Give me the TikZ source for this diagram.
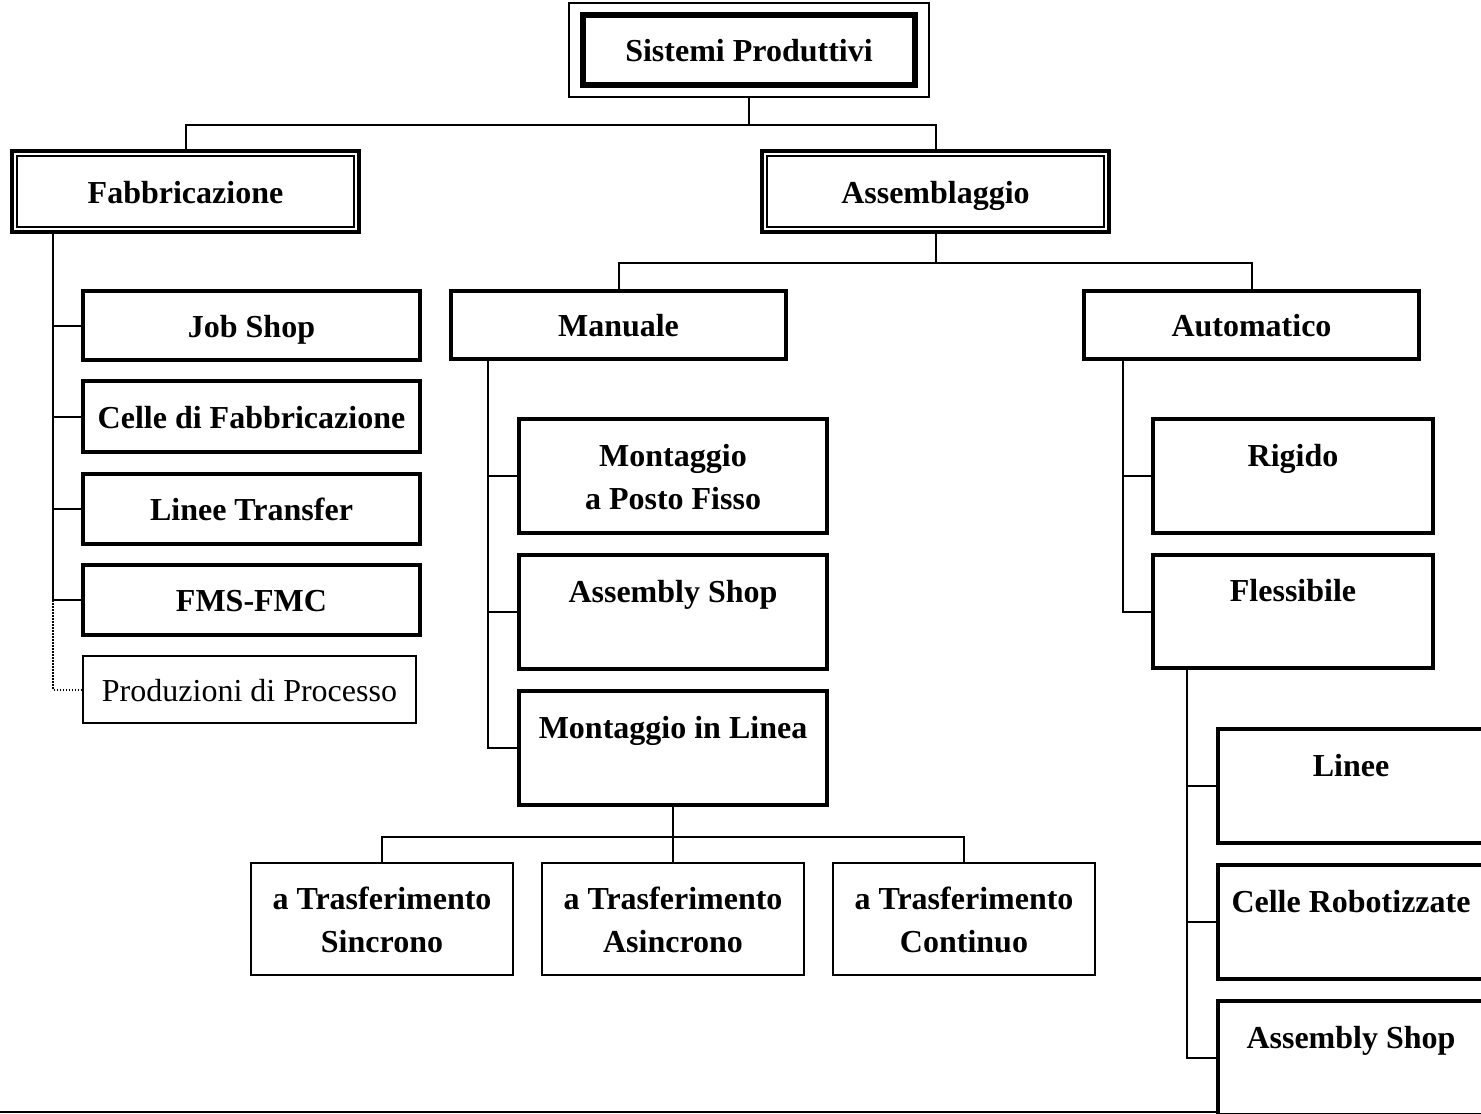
\documentclass[tikz,border=0pt]{standalone}
\usepackage{fontspec}
\setmainfont{Liberation Serif}
\usetikzlibrary{fit,calc}

% every line of box text carries the same strut, so all boxes share one baseline grid
\newcommand{\bxline}[1]{#1\rule[-10pt]{0pt}{43pt}}

\tikzset{
  thinline/.style={line width=2pt},
  boxbase/.style={draw, rectangle, inner sep=0pt, align=center,
    font=\fontsize{32}{43}\selectfont\bfseries},
  thickbox/.style={boxbase, line width=4pt},
  thinbox/.style={boxbase, thinline},
  conn/.style={thinline},
}

\begin{document}
\begin{tikzpicture}[x=1pt, y=1pt]
\useasboundingbox (0,0) rectangle (1481,-1114);
\clip (0,0) rectangle (1481,-1114);

% root with its outer frame
\node[thickbox, line width=5.5pt, minimum width=332, minimum height=70] (root) at (749,-50) {\bxline{Sistemi Produttivi}};
\node[draw, thinline, fit=(root), inner xsep=11, inner ysep=9] (rootframe) {};

% first level, double framed
\node[thickbox, minimum width=347, minimum height=81] (fab) at (185.5,-191.5) {\bxline{Fabbricazione}};
\node[thickbox, minimum width=347, minimum height=81] (ass) at (935.5,-191.5) {\bxline{Assemblaggio}};
\draw[thinline] ($(fab.south west)+(7,7)$) rectangle ($(fab.north east)+(-7,-7)$);
\draw[thinline] ($(ass.south west)+(7,7)$) rectangle ($(ass.north east)+(-7,-7)$);

% fabbricazione
\node[thickbox, minimum width=337, minimum height=69] (job) at (251.5,-325.5) {\bxline{Job Shop}};
\node[thickbox, minimum width=337, minimum height=71] (celle) at (251.5,-416.5) {\bxline{Celle di Fabbricazione}};
\node[thickbox, minimum width=337, minimum height=70] (transfer) at (251.5,-509) {\bxline{Linee Transfer}};
\node[thickbox, minimum width=337, minimum height=70] (fms) at (251.5,-600) {\bxline{FMS-FMC}};
\node[thinbox, font=\fontsize{32}{43}\selectfont, minimum width=333, minimum height=67] (proc) at (249.5,-689.5) {\bxline{Produzioni di Processo}};

% assemblaggio
\node[thickbox, minimum width=335, minimum height=68] (man) at (618.5,-325) {\bxline{Manuale}};
\node[thickbox, minimum width=335, minimum height=68] (auto) at (1251.5,-325) {\bxline{Automatico}};

\node[thickbox, minimum width=308, minimum height=114] (fisso) at (673,-476) {\bxline{Montaggio}\\\bxline{a Posto Fisso}};
\node[thickbox, minimum width=308, minimum height=114] (shop) at (673,-612) {\bxline{Assembly Shop}\\\bxline{}};
\node[thickbox, minimum width=308, minimum height=114] (linea) at (673,-748) {\bxline{Montaggio in Linea}\\\bxline{}};

\node[thinbox, minimum width=262, minimum height=112] (sinc) at (382,-919) {\bxline{a Trasferimento}\\\bxline{Sincrono}};
\node[thinbox, minimum width=262, minimum height=112] (asinc) at (673,-919) {\bxline{a Trasferimento}\\\bxline{Asincrono}};
\node[thinbox, minimum width=262, minimum height=112] (cont) at (964,-919) {\bxline{a Trasferimento}\\\bxline{Continuo}};

\node[thickbox, minimum width=280, minimum height=114] (rigido) at (1293,-476) {\bxline{Rigido}\\\bxline{}};
\node[thickbox, minimum width=280, minimum height=113] (fless) at (1293,-611.5) {\bxline{Flessibile}\\\bxline{}};

\node[thickbox, minimum width=266, minimum height=114] (linee) at (1351,-786) {\bxline{Linee}\\\bxline{}};
\node[thickbox, minimum width=266, minimum height=114] (robot) at (1351,-922) {\bxline{Celle Robotizzate}\\\bxline{}};
\node[thickbox, minimum width=266, minimum height=114] (shop2) at (1351,-1058) {\bxline{Assembly Shop}\\\bxline{}};

% connectors: root
\draw[conn] (rootframe.south) -- ++(0,-27) coordinate (j0);
\draw[conn] (fab.north) |- (j0) -| (ass.north);

% connectors: fabbricazione
\coordinate (fx) at ($(fab.south west)+(43,0)$);
\draw[conn] (fx) |- (job.west);
\draw[conn] (fx) |- (celle.west);
\draw[conn] (fx) |- (transfer.west);
\draw[conn] (fx) |- (fms.west);
\draw[line width=2pt, dash pattern=on 1.6pt off 1.4pt] (fms.west -| fx) |- (proc.west);

% connectors: assemblaggio
\draw[conn] (ass.south) -- ++(0,-29) coordinate (j1);
\draw[conn] (man.north) |- (j1) -| (auto.north);

\coordinate (mx) at ($(man.south west)+(39,0)$);
\draw[conn] (mx) |- (fisso.west);
\draw[conn] (mx) |- (shop.west);
\draw[conn] (mx) |- (linea.west);

\draw[conn] (linea.south) -- ++(0,-30) coordinate (j2);
\draw[conn] (sinc.north) |- (j2) -| (cont.north);
\draw[conn] (j2) -- (asinc.north);

\coordinate (ax) at ($(auto.south west)+(41,0)$);
\draw[conn] (ax) |- (rigido.west);
\draw[conn] (ax) |- (fless.west);

\coordinate (flx) at ($(fless.south west)+(36,0)$);
\draw[conn] (flx) |- (linee.west);
\draw[conn] (flx) |- (robot.west);
\draw[conn] (flx) |- (shop2.west);

% rule along the bottom
\draw[thinline] (0,-1112) -- (shop2.west |- 0,-1112);
\end{tikzpicture}
\end{document}
